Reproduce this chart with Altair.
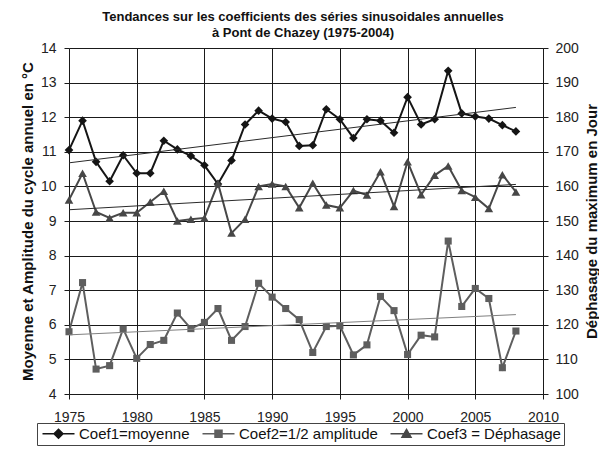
import altair as alt
import pandas as pd

years = list(range(1975, 2009))
coef1 = [11.05, 11.90, 10.71, 10.15, 10.90, 10.38, 10.38, 11.32, 11.07, 10.88,
         10.61, 10.07, 10.75, 11.79, 12.19, 11.96, 11.86, 11.17, 11.19, 12.23,
         11.94, 11.40, 11.94, 11.90, 11.55, 12.58, 11.79, 11.94, 13.34, 12.11,
         12.02, 11.96, 11.77, 11.59]
coef2 = [5.80, 7.22, 4.72, 4.82, 5.88, 5.03, 5.43, 5.55, 6.34, 5.89,
         6.07, 6.47, 5.55, 5.95, 7.20, 6.80, 6.47, 6.15, 5.20, 5.95,
         5.97, 5.13, 5.42, 6.82, 6.41, 5.14, 5.70, 5.65, 8.42, 6.53,
         7.05, 6.76, 4.76, 5.82]
coef3 = [156.1, 163.8, 152.6, 150.9, 152.4, 152.4, 155.5, 158.6, 150.0, 150.5,
         150.9, 160.9, 146.5, 150.5, 160.0, 160.7, 160.0, 153.8, 160.9, 154.6,
         153.8, 158.8, 157.5, 164.2, 154.2, 167.1, 157.6, 163.2, 165.9, 158.8,
         156.9, 153.6, 163.4, 158.4]

series_names = ["Coef1=moyenne", "Coef2=1/2 amplitude", "Coef3 = Déphasage"]
series_colors = ["#151515", "#5e5e5e", "#474747"]
trend_colors = ["#2a2a2a", "#808080", "#2a2a2a"]
x_ticks = [1975, 1980, 1985, 1990, 1995, 2000, 2005, 2010]
yl_ticks = list(range(4, 15))
yr_ticks = list(range(100, 201, 10))

FONT = "Liberation Sans"
GRID = "#1a1a1a"

# legend glyphs: a line stub with the series marker (size 100 -> unit = 5 px)
legend_paths = [
    "M-3.2,0H3.2M0,-0.9L0.9,0L0,0.9L-0.9,0Z",
    "M-3.2,0H3.2M-0.7,-0.7H0.7V0.7H-0.7Z",
    "M-3.2,0H3.2M0,-0.85L0.9,0.7H-0.9Z",
]

df1 = pd.DataFrame({"year": years, "value": coef1})
df2 = pd.DataFrame({"year": years, "value": coef2})
df3 = pd.DataFrame({"year": years, "value": coef3})
leg_df = pd.DataFrame({"series": series_names})

x_enc = alt.X(
    "year:Q",
    scale=alt.Scale(domain=[1975, 2010], nice=False, zero=False),
    axis=alt.Axis(values=x_ticks, format="d", title=None, grid=True,
                  gridColor=GRID, gridWidth=1, domain=False, tickColor=GRID,
                  tickSize=5, labelFont=FONT, labelFontSize=14, labelColor="#222",
                  labelPadding=11, labelFlush=False),
)
yl = alt.Y(
    "value:Q",
    scale=alt.Scale(domain=[4, 14], nice=False, zero=False),
    axis=alt.Axis(values=yl_ticks, title="Moyenne et Amplitude du cycle annuel en °C",
                  grid=True, gridColor=GRID, gridWidth=1, domain=False,
                  tickColor=GRID, tickSize=5, labelFont=FONT, labelFontSize=14,
                  labelColor="#222", labelPadding=8, titleFont=FONT,
                  titleFontSize=15, titleFontWeight="bold", titleColor="#111",
                  titlePadding=5),
)
yr = alt.Y(
    "value:Q",
    scale=alt.Scale(domain=[100, 200], nice=False, zero=False),
    axis=alt.Axis(orient="right", values=yr_ticks, title="Déphasage du maximum en Jour",
                  grid=False, domain=True, domainColor=GRID, tickColor=GRID,
                  tickSize=5, labelFont=FONT, labelFontSize=14, labelColor="#222",
                  labelPadding=7, titleFont=FONT, titleFontSize=15,
                  titleFontWeight="bold", titleColor="#111", titleAngle=270,
                  titlePadding=21),
)


def series_layers(df, y, color, tcolor, shape, size):
    line = alt.Chart(df).mark_line(color=color, strokeWidth=2).encode(x=x_enc, y=y)
    pts = alt.Chart(df).mark_point(shape=shape, filled=True, color=color,
                                   size=size, opacity=1).encode(x=x_enc, y=y)
    trend = alt.Chart(df).transform_regression("year", "value").mark_line(
        color=tcolor, strokeWidth=1).encode(x=x_enc, y=y)
    return [line, pts, trend]


leg = alt.Legend(title=None, orient="none", legendX=-32, legendY=375,
                 direction="horizontal", labelFont=FONT, labelFontSize=15,
                 labelColor="#111", symbolSize=100, symbolStrokeWidth=1.5,
                 symbolOffset=11, labelOffset=13, columnPadding=9, padding=3,
                 strokeColor="#444", fillColor="white", symbolOpacity=1)

legend_layer = alt.Chart(leg_df).mark_point(filled=True, opacity=1).encode(
    shape=alt.Shape("series:N", scale=alt.Scale(domain=series_names, range=legend_paths), legend=leg),
    fill=alt.Fill("series:N", scale=alt.Scale(domain=series_names, range=series_colors), legend=leg),
    stroke=alt.Stroke("series:N", scale=alt.Scale(domain=series_names, range=series_colors), legend=leg),
).transform_filter("false")

left = alt.layer(
    *series_layers(df1, yl, series_colors[0], trend_colors[0], "diamond", 75),
    *series_layers(df2, yl, series_colors[1], trend_colors[1], "square", 50),
    legend_layer,
)
right = alt.layer(
    *series_layers(df3, yr, series_colors[2], trend_colors[2], "triangle-up", 75),
)

chart = alt.layer(left, right).resolve_scale(y="independent").properties(
    width=474, height=346,
    autosize=alt.AutoSizeParams(type="none"),
    padding={"left": 61, "top": 40, "right": 56, "bottom": 52},
    title=alt.TitleParams(
        text=["Tendances sur les coefficients des séries sinusoidales annuelles",
              "à Pont de Chazey (1975-2004)"],
        font=FONT, fontSize=13, fontWeight="bold", color="#111",
        anchor="middle", offset=1, lineHeight=16, dx=-3),
).configure_view(stroke=None).configure(background="white")

chart.save("out.html", embed_options={"renderer": "svg", "actions": False})
